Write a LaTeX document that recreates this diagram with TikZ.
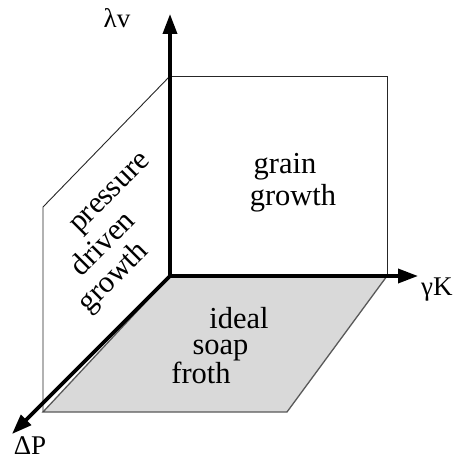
\documentclass[tikz,border=0pt]{standalone}
\usepackage{fontspec}
\setmainfont{Liberation Serif}
\usetikzlibrary{arrows.meta}
\tikzset{
  axis/.style={line width=3.6pt, -{Triangle[length=20pt,width=14pt]}},
  plane/.style={draw=black!85, line width=0.9pt},
  floor/.style={fill=black!15, draw=black!65, line width=1.3pt},
  lbl/.style={font=\fontsize{27}{30}\selectfont, inner sep=0pt, anchor=base},
  word/.style={font=\fontsize{30.5}{34}\selectfont, inner sep=0pt, anchor=base},
}
\begin{document}
\begin{tikzpicture}[x=1pt,y=-1pt]
\useasboundingbox (0,0) rectangle (464,460);
% key points
\coordinate (O) at (170,276);
\coordinate (vtop) at (170,76);
\coordinate (rtop) at (387,76);
\coordinate (rbot) at (387,276);
\coordinate (ltop) at (43,207);
\coordinate (lbot) at (43,412);
\coordinate (fbr) at (287,412);
\coordinate (ytip) at (170,14);
\coordinate (xtip) at (418,276);
\coordinate (ztip) at (12,434);
% floor
\path[floor] (O) -- (rbot) -- (fbr) -- (lbot) -- cycle;
% planes
\draw[plane] (vtop) -- (rtop) -- (rbot);
\draw[plane] (vtop) -- (ltop) -- (lbot);
% axes
\draw[axis] (O) -- (ytip);
\draw[axis] (O) -- (xtip);
\draw[axis] (O) -- (ztip);
% axis labels
\node[lbl] (lv) at (117,28) {λv};
\node[lbl, anchor=base west] (gk) at (421,295) {γK};
\node[lbl] (dp) at (30,454) {ΔP};
% plane texts
\node[word] (g1) at (285,173) {grain};
\node[word] (g2) at (293,205) {growth};
\node[word] (i1) at (239,328) {ideal};
\node[word] (i2) at (220.5,354) {soap};
\node[word] (i3) at (201,383) {froth};
\node[word, rotate=45] (p1) at (115,198) {pressure};
\node[word, rotate=45] (p2) at (109,250) {driven};
\node[word, rotate=45] (p3) at (119,283) {growth};
\end{tikzpicture}
\end{document}
